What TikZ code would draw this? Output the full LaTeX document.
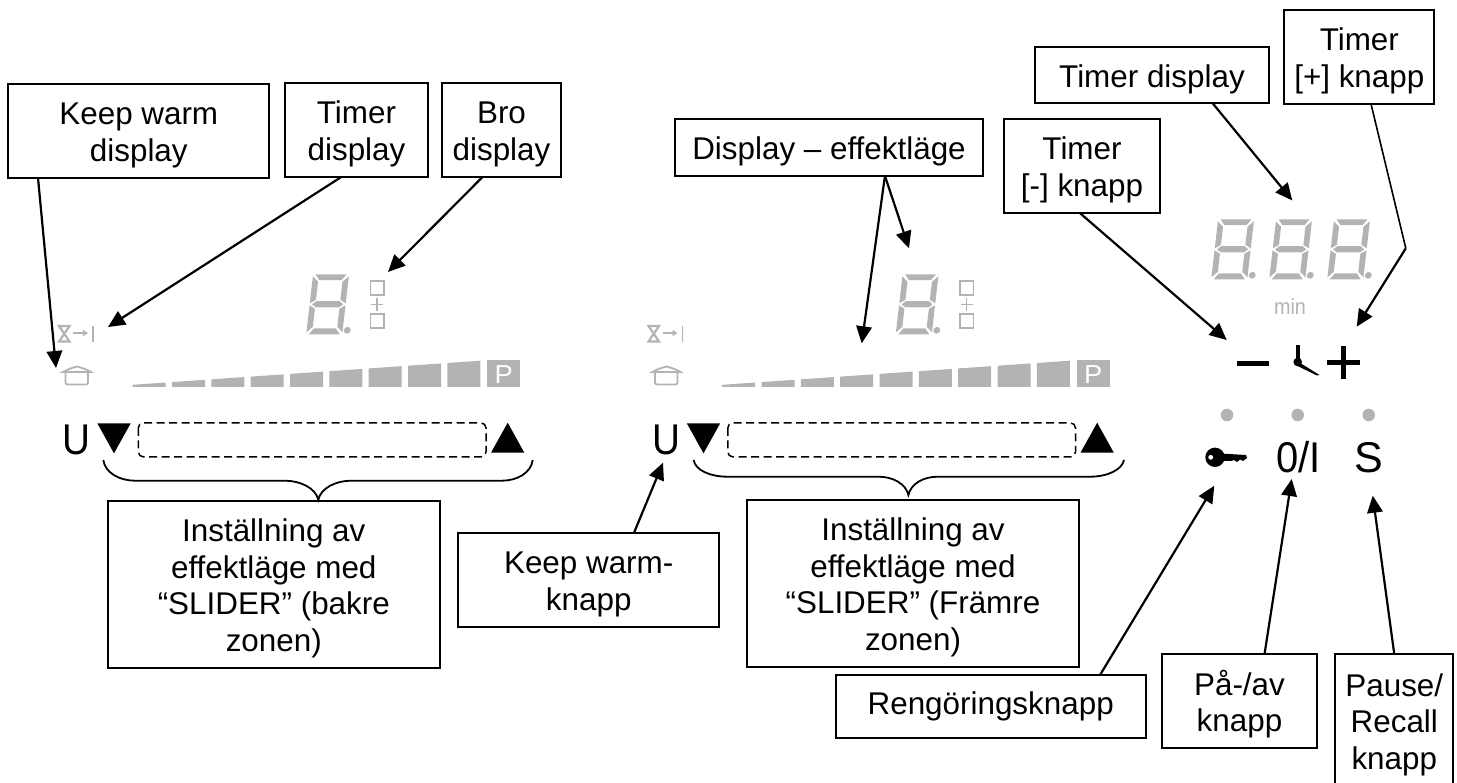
\documentclass[tikz,border=0pt]{standalone}
\usepackage{fontspec}
\usepackage{tkz-graph}
\usetikzlibrary{arrows.meta}
\setmainfont{Liberation Sans}

\newcommand{\topS}{\rule{0pt}{31pt}}
\newcommand{\segDigit}[2]{
	\begin{scope}[shift = {(#1,#2)}, xslant = 0.115, fill = segGray]
	\fill (3,0) -- (34,0) -- (29.5,5.8) -- (7.5,5.8) -- cycle;
	\fill (0.5,2) -- (6.3,7.5) -- (6.3,25.5) -- (0.5,29) -- cycle;
	\fill (36.5,2) -- (36.5,29) -- (30.7,25.5) -- (30.7,7.5) -- cycle;
	\fill (3,30) -- (7,26.8) -- (30,26.8) -- (34,30) -- (30,33.2) -- (7,33.2) -- cycle;
	\fill (0.5,31) -- (6.3,34.5) -- (6.3,52.5) -- (0.5,58) -- cycle;
	\fill (36.5,31) -- (36.5,58) -- (30.7,52.5) -- (30.7,34.5) -- cycle;
	\fill (3,60) -- (7.5,54.2) -- (29.5,54.2) -- (34,60) -- cycle;
	\fill (41.1,56) circle (3.4);
	\end{scope}
}
\newcommand{\hobPanel}[2]{
	\begin{scope}[shift = {(#1,0)}]
	\draw[iconStyle, line width = 2.2pt] (59,326) -- (69.5,326) -- (59,341.5) -- (69.5,341.5) -- cycle;
	\draw[iconStyle, -{Triangle[length=5pt,width=6pt]}] (73,333) -- (88,333);
	\draw[iconStyle] (93,326) -- (93,342);
	\draw[iconStyle] (63,372) .. controls (68,369) and (72,368) .. (77,366.5) .. controls (82,368) and (86,369) .. (91,372) -- cycle;
	\draw[iconStyle, rounded corners = 2pt] (65.5,373) -- (65.5,384.5) -- (88,384.5) -- (88,373);
	\segDigit{312.6}{274.3}
	\draw[iconStyle] (370.5,281) rectangle (384,295);
	\draw[iconStyle] (370.5,314) rectangle (384,328);
	\draw[iconStyle] (377,298) -- (377,311) (371,304.5) -- (383,304.5);
	\foreach \i in {0,...,8}{
		\pgfmathsetmacro{\xa}{132.7+39.33*\i}
		\pgfmathsetmacro{\xb}{\xa+33}
		\fill[segGray] (\xa,387) -- (\xa,{384.8-0.0693*(\xa-132.7)}) -- (\xb,{384.8-0.0693*(\xb-132.7)}) -- (\xb,387) -- cycle;
	}
	\fill[segGray] (487.3,360.3) rectangle (520.3,387);
	\node[font = \fontsize{26}{26}\selectfont, text = white, anchor = base, inner sep = 0pt, xscale = 1.05] (#2P) at (503.8,384) {P};
	\node[signStyle, xscale = 0.9] (#2U) at (76.5,454) {U};
	\fill (97.3,423.3) -- (130.7,423.3) -- (114,453.3) -- cycle;
	\fill (491,452.7) -- (524.3,452.7) -- (507.7,422.7) -- cycle;
	\draw[line width = 1.5pt, dash pattern = on 8pt off 4.5pt, rounded corners = 5pt] (138.3,422.9) rectangle (486,456.9);
	\end{scope}
}

\begin{document}
\begin{tikzpicture}[x = 1pt, y = -1pt]
	\definecolor{segGray}{HTML}{B3B3B3}
	\tikzstyle{VertexStyle} = []
	\tikzstyle{EdgeStyle} = []
	\tikzstyle{boxStyle}=[shape = rectangle, draw, line width = 2pt, inner sep = 0pt, outer sep = 0pt, align = center, font = \fontsize{31.4}{36.6}\selectfont]
	\tikzstyle{signStyle}=[anchor = base, inner sep = 0pt, font = \fontsize{43}{43}\selectfont]
	\tikzstyle{iconStyle}=[draw = segGray, line width = 1.8pt]
	\tikzstyle{pointStyle}=[line width = 2.2pt, -{Triangle[length=17pt,width=15.5pt]}]
	\useasboundingbox (0,0) rectangle (1457,783);
	\hobPanel{0}{rear}
	\hobPanel{589.5}{front}
	\segDigit{1217.6}{219.3}
	\segDigit{1275.6}{219.3}
	\segDigit{1333.6}{219.3}
	\node[anchor = base, inner sep = 0pt, text = segGray, xscale = 0.9, font = \fontsize{22}{22}\selectfont] (minLabel) at (1290,315) {min};
	\fill (1236.7,361) rectangle (1269,366);
	\fill (1296,345) -- (1299.5,345) -- (1299.5,362) -- (1296,362) -- cycle;
	\fill (1297.7,362) circle (4.3);
	\fill (1297,361) -- (1319.5,375) -- (1317,375.5) -- (1295.5,365) -- cycle;
	\fill (1327,360) rectangle (1360,364.7);
	\fill (1341,346) rectangle (1345.7,379);
	\fill[segGray] (1227,415) circle (6.3);
	\fill[segGray] (1297.7,415) circle (6.3);
	\fill[segGray] (1368.7,415) circle (6.3);
	\fill (1215,457.3) circle (9.7);
	\fill (1220,453.5) -- (1246,455) -- (1247,458) -- (1243,461) -- (1240,459.5) -- (1237,462) -- (1234,460) -- (1231,461) -- (1220,461) -- cycle;
	\fill[white] (1210.7,457.3) circle (2.4);
	\node[signStyle, xscale = 0.93] (onOff) at (1298.3,472.7) {0/I};
	\node[signStyle] (pauseSign) at (1369,472.7) {S};
	\draw[line width = 1.8pt] (103.3,460) .. controls (105,473) and (120,480.7) .. (135,480.7) -- (285,480.7) .. controls (300,480.7) and (316,488) .. (318.3,500) .. controls (320.6,488) and (336,480.7) .. (351,480.7) -- (502,480.7) .. controls (517,480.7) and (531,473) .. (532.7,460);
	\draw[line width = 1.8pt] (693.7,460) .. controls (695,470) and (710,476.7) .. (727.5,476.7) -- (878.6,476.7) .. controls (893,476.7) and (906,484) .. (908.4,495) .. controls (910.8,484) and (923,476.7) .. (937.8,476.7) -- (1090,476.7) .. controls (1107,476.7) and (1122,470) .. (1124,460);
	\Vertex[style = {boxStyle, minimum width = 261pt, minimum height = 94pt}, x = 138.8, y = 131, L = {\topS Keep warm\\display}]{keepWarmDisp}
	\Vertex[style = {boxStyle, minimum width = 143pt, minimum height = 94pt}, x = 356.5, y = 130, L = {\topS Timer\\display}]{timerDisp}
	\Vertex[style = {boxStyle, minimum width = 119.5pt, minimum height = 94pt}, x = 501.5, y = 130, L = {\topS Bro\\display}]{broDisp}
	\Vertex[style = {boxStyle, minimum width = 307.5pt, minimum height = 57pt}, x = 829, y = 147.5, L = {\topS Display -- effektläge}]{powerDisp}
	\Vertex[style = {boxStyle, minimum width = 156pt, minimum height = 93.7pt}, x = 1082, y = 165.9, L = {\topS Timer\\{[-]} knapp}]{timerMinus}
	\Vertex[style = {boxStyle, minimum width = 233.8pt, minimum height = 56.6pt}, x = 1152, y = 75, L = {\topS Timer display}]{timerMain}
	\Vertex[style = {boxStyle, minimum width = 150pt, minimum height = 94pt}, x = 1359.3, y = 57, L = {\topS Timer\\{[+]} knapp}]{timerPlus}
	\Vertex[style = {boxStyle, minimum width = 332.3pt, minimum height = 166.7pt}, x = 273.8, y = 584.3, L = {\topS Inställning av\\effektläge med\\“SLIDER” (bakre\\zonen)}]{sliderRear}
	\Vertex[style = {boxStyle, minimum width = 332pt, minimum height = 166.7pt}, x = 913, y = 583.3, L = {\topS Inställning av\\effektläge med\\“SLIDER” (Främre\\zonen)}]{sliderFront}
	\Vertex[style = {boxStyle, minimum width = 261.4pt, minimum height = 93.4pt}, x = 588.7, y = 580, L = {\topS Keep warm-\\knapp}]{keepWarmKey}
	\Vertex[style = {boxStyle, minimum width = 310pt, minimum height = 62.7pt}, x = 990.7, y = 706.35, L = {Rengöringsknapp}]{cleanKey}
	\Vertex[style = {boxStyle, minimum width = 154.4pt, minimum height = 94pt}, x = 1239.5, y = 701.3, L = {\topS På-/av\\knapp}]{powerKey}
	\Vertex[style = {boxStyle, minimum width = 118pt, minimum height = 132.2pt}, x = 1394.3, y = 720.4, L = {\topS Pause/\\Recall\\knapp}]{pauseKey}
	\coordinate (potTip) at (56,368);
	\coordinate (glassTip) at (108,327);
	\coordinate (broTip) at (388,272);
	\coordinate (digitTip) at (909,248.3);
	\coordinate (barTip) at (861.7,343.3);
	\coordinate (minusTip) at (1226.7,340);
	\coordinate (mainTip) at (1292.3,200.5);
	\coordinate (plusBend) at (1405.8,248.3);
	\coordinate (plusTip) at (1356.7,326.7);
	\coordinate (warmTip) at (663,462.7);
	\coordinate (keyTip) at (1214.3,485.7);
	\coordinate (powerTip) at (1291.7,479);
	\coordinate (pauseTip) at (1372.7,495.7);
	\Edge[style = {pointStyle}](keepWarmDisp.-155.2)(potTip)
	\Edge[style = {pointStyle}](timerDisp.-108.6)(glassTip)
	\Edge[style = {pointStyle}](broDisp.-112)(broTip)
	\Edge[style = {pointStyle}](powerDisp.-27.1)(digitTip)
	\Edge[style = {pointStyle}](powerDisp.-27.1)(barTip)
	\Edge[style = {pointStyle}](timerMinus.-93.4)(minusTip)
	\Edge[style = {pointStyle}](timerMain.-25.8)(mainTip)
	\Edge[style = {line width = 1.6pt}](timerPlus.-76.4)(plusBend)
	\Edge[style = {pointStyle}](plusBend)(plusTip)
	\Edge[style = {pointStyle}](keepWarmKey.46.1)(warmTip)
	\Edge[style = {pointStyle}](cleanKey.16.1)(keyTip)
	\Edge[style = {pointStyle}](powerKey.62.5)(powerTip)
	\Edge[style = {pointStyle}](pauseKey.north)(pauseTip)
\end{tikzpicture}
\end{document}
